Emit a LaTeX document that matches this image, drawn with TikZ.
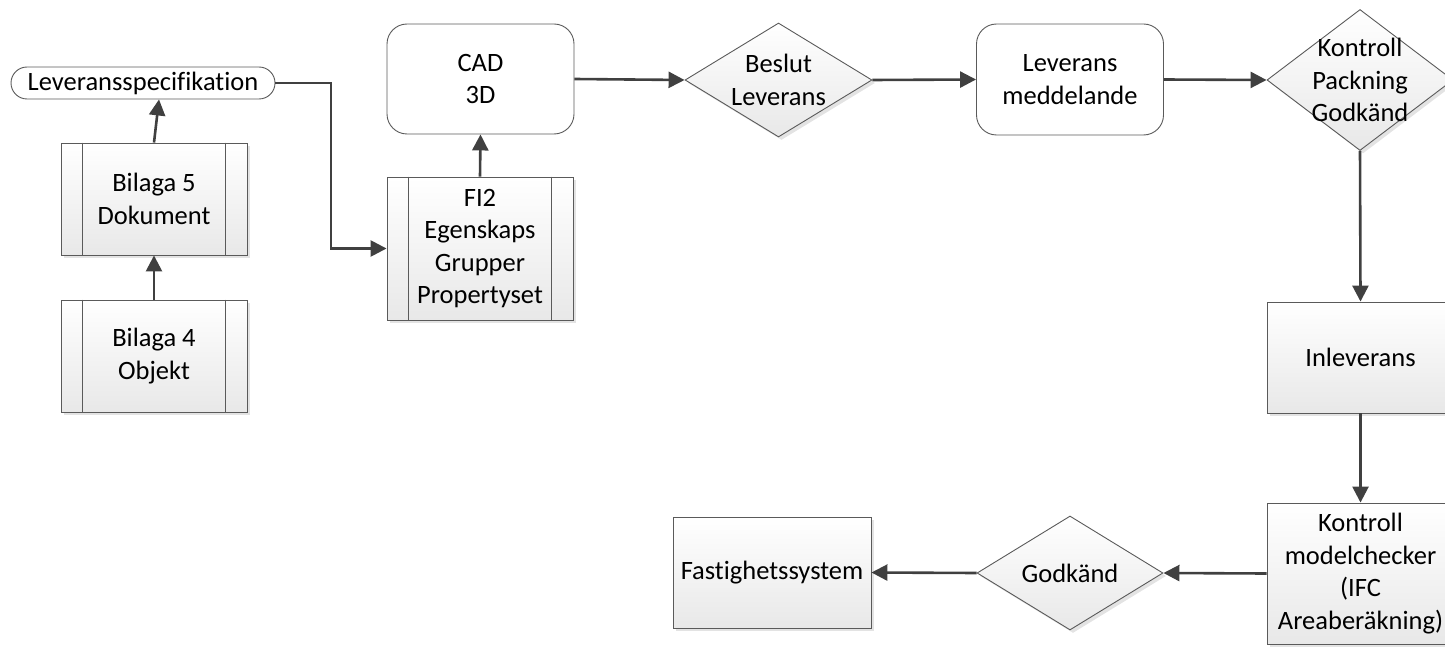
\documentclass[tikz,border=0pt]{standalone}
\usepackage{fontspec}
\setmainfont[Ligatures={NoCommon}]{Carlito}
\usetikzlibrary{shapes.geometric,arrows.meta,shadows}
\definecolor{edge}{HTML}{5A5A5A}
\definecolor{arrc}{HTML}{404040}
\begin{document}
\begin{tikzpicture}[x=1pt,y=-1pt,
  every node/.style={font=\fontsize{26.5pt}{32.5pt}\selectfont, text=black, align=center, inner sep=0pt},
  shade/.style={top color=white, bottom color=black!9,
    drop shadow={shadow xshift=3pt, shadow yshift=-3pt, fill=black!18, opacity=0.6}},
  procbox/.style={rectangle, draw=edge, line width=0.9pt, shade, minimum width=186pt, minimum height=112pt},
  roundbox/.style={rectangle, rounded corners=20pt, draw=edge, line width=0.9pt, fill=white, minimum width=187pt, minimum height=110pt},
  decision/.style={diamond, draw=edge, line width=0.9pt, shade, minimum width=187pt, minimum height=114pt},
  arr/.style={draw=arrc, line width=2.6pt, -{Triangle[length=16pt,width=16pt]}}
]
\useasboundingbox (0,0) rectangle (1445,647);

% nodes
\node[rectangle, rounded corners=16pt, draw=edge, line width=0.9pt, fill=white,
      minimum width=264pt, minimum height=32pt] (spec) at (143,83) {Leveransspecifikation};
\node[procbox] (b5) at (154,199) {Bilaga 5\\Dokument};
\node[procbox] (b4) at (154,356) {Bilaga 4\\Objekt};
\node[procbox, minimum height=143pt] (fi2) at (480,248.5) {FI2\\Egenskaps\\Grupper\\Propertyset};
\node[roundbox] (cad) at (480.5,79) {CAD\\3D};
\node[decision, label={[align=center]center:Beslut\\Leverans}] (beslut) at (778.5,80) {};
\node[roundbox, minimum height=111pt] (lev) at (1070,79.5) {Leverans\\meddelande};
\node[decision, minimum width=186pt, minimum height=141pt,
      label={[align=center]center:Kontroll\\Packning\\Godkänd}] (kp) at (1360,80) {};
\node[procbox, minimum width=187pt, minimum height=111pt] (inl) at (1360.5,357.5) {Inleverans};
\node[procbox, minimum width=187pt, minimum height=141pt] (kmc) at (1360.5,573.5) {Kontroll\\modelchecker\\(IFC\\Areaberäkning)};
\node[decision, minimum width=186pt, label={[align=center]center:Godkänd}] (godk) at (1070,573) {};
\node[procbox, minimum width=198pt, minimum height=111pt] (fast) at (772,572.5) {Fastighetssystem};

% inner lines of predefined process boxes
\foreach \n in {b5,b4,fi2}{
  \draw[edge, line width=0.9pt] ([xshift=22pt]\n.north west) -- ([xshift=22pt]\n.south west);
  \draw[edge, line width=0.9pt] ([xshift=-22pt]\n.north east) -- ([xshift=-22pt]\n.south east);
}

% connectors
\coordinate (bend) at (331,83);
\draw[arr] (b4.north) -- (b5.south);
\draw[arr] (b5.north) -- ([xshift=16pt]spec.south);
\draw[arr] (spec.east) -- (bend) |- (fi2.west);
\draw[arr] (fi2.north) -- (cad.south);
\draw[arr] (cad.east) -- (beslut.west);
\draw[arr] (beslut.east) -- (lev.west);
\draw[arr] (lev.east) -- (kp.west);
\draw[arr] (kp.south) -- (inl.north);
\draw[arr] (inl.south) -- (kmc.north);
\draw[arr] (kmc.west) -- (godk.east);
\draw[arr] (godk.west) -- (fast.east);
\end{tikzpicture}
\end{document}
